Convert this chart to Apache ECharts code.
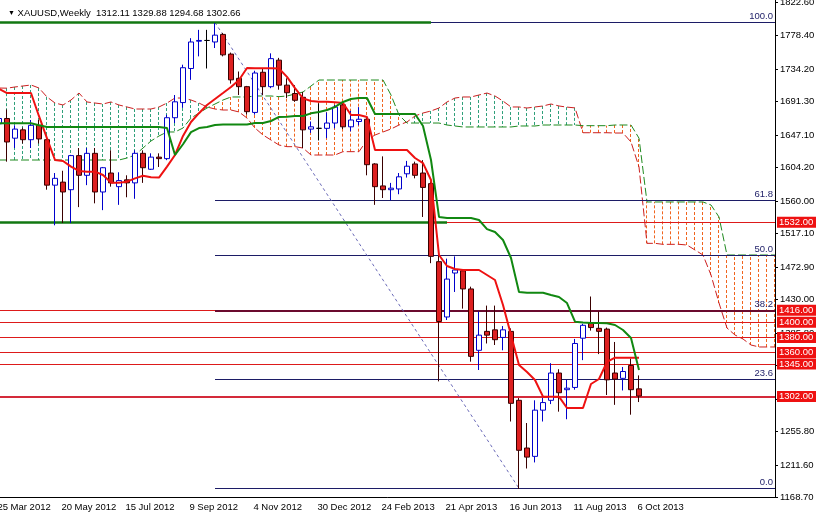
<!DOCTYPE html>
<html><head><meta charset="utf-8">
<script src="https://cdn.jsdelivr.net/npm/echarts@6/dist/echarts.min.js"></script>
<style>html,body{margin:0;padding:0;background:#fff}#c{width:816px;height:516px}</style>
</head><body><div id="c"></div>
<script>
// ---------- data ----------
const titleText = 'XAUUSD,Weekly  1312.11 1329.88 1294.68 1302.66';
const yTickValues = [1822.6,1778.4,1734.2,1691.3,1647.1,1604.2,1560.0,1517.1,1472.9,1430.0,1385.8,1342.9,1298.7,1255.8,1211.6,1168.7];
const xTickLabels = ['25 Mar 2012','20 May 2012','15 Jul 2012','9 Sep 2012','4 Nov 2012','30 Dec 2012','24 Feb 2013','21 Apr 2013','16 Jun 2013','11 Aug 2013','6 Oct 2013'];
const xTickBars = [0,8,16,24,32,40,48,56,64,72,80];

const openP  = [1662,1669,1643,1654,1641,1660,1641,1581,1585,1575,1620,1594,1623,1572,1597,1579,1588,1584,1623,1602,1618,1616,1670,1690,1735,1771,1772,1770,1780,1754,1722,1711,1677,1730,1711,1746,1713,1702,1697,1655,1656,1656,1663,1687,1658,1665,1668,1609,1580,1575,1576,1596,1609,1597,1583,1480,1407,1465,1468,1444,1363,1388,1390,1380,1388,1297,1234,1223,1284,1297,1333,1311,1314,1379,1399,1392,1391,1333,1326,1343,1312.11];
const highP  = [1697,1681,1660,1657,1667,1667,1643,1597,1600,1621,1630,1630,1630,1605,1627,1598,1594,1627,1627,1623,1623,1674,1700,1740,1775,1786,1786,1795,1782,1756,1731,1712,1732,1735,1755,1749,1722,1713,1704,1665,1689,1677,1687,1690,1679,1684,1672,1610,1619,1584,1597,1613,1612,1614,1586,1495,1484,1487,1470,1447,1414,1422,1422,1395,1392,1300,1267,1297,1300,1346,1338,1324,1378,1398,1434,1414,1393,1374,1341,1352,1329.88];
const lowP   = [1643,1612,1630,1636,1630,1636,1575,1528,1531,1531,1552,1581,1557,1548,1579,1555,1565,1563,1584,1601,1605,1614,1663,1683,1720,1751,1735,1762,1751,1715,1700,1674,1674,1700,1709,1707,1696,1691,1630,1650,1640,1643,1656,1655,1652,1660,1594,1555,1564,1561,1569,1591,1590,1539,1478,1322,1403,1440,1418,1348,1337,1372,1370,1363,1269,1180,1207,1215,1269,1292,1282,1272,1311,1350,1389,1358,1304,1291,1310,1278,1294.68];
const closeP = [1669,1638,1655,1641,1660,1642,1581,1590,1572,1620,1594,1623,1572,1604,1584,1587,1584,1623,1604,1618,1616,1670,1691,1736,1770,1772,1772,1779,1753,1720,1711,1678,1729,1711,1748,1713,1703,1693,1654,1658,1656,1663,1684,1658,1667,1668,1608,1579,1575,1577,1592,1606,1594,1578,1487,1401,1457,1469,1444,1355,1383,1383,1377,1390,1293,1231,1222,1284,1294,1333,1307,1313,1372,1396,1393,1388,1324,1325,1335,1311,1302.66];

const tenkan = [1708,1702.6,1702.6,1702.6,1702.6,1672,1642.8,1614.2,1612.9,1605.4,1599.7,1598.8,1598.8,1594.4,1584.3,1584.3,1585.6,1590,1593.5,1591.3,1591,1605.4,1620.8,1645.9,1664.4,1676,1686.8,1694.7,1702.6,1710.6,1719.8,1735.6,1735.2,1735.2,1735.2,1735,1724,1709,1695.6,1692,1691,1691,1690.5,1689.4,1673.6,1673.6,1671,1627.4,1627.4,1627.4,1627.4,1627.4,1616.8,1610,1587.8,1488.8,1474.3,1470.3,1469,1469,1469,1462.4,1455.8,1422.8,1383.2,1343.6,1334.4,1323.8,1301.8,1301.8,1301.8,1286.8,1286.8,1286.8,1318.5,1325.1,1347.6,1353.2,1353.2,1353.2,1353.2];
const kijun = [1662.6,1662.6,1662.6,1662.6,1662.6,1660,1657.8,1657.8,1657.8,1657.8,1657.8,1657.8,1657.8,1657.8,1657.8,1657.8,1657.8,1657.8,1657.8,1657.8,1657.8,1656.4,1620.8,1635,1651,1656.4,1657.8,1660.4,1661,1661,1661,1661,1663,1663,1665.7,1671,1671.4,1672.3,1672.3,1675.8,1677.6,1680.2,1684.2,1690.8,1694.7,1696,1696,1674.9,1674.9,1674.9,1674.9,1674.9,1674.9,1659.1,1614.2,1539,1537.6,1537.6,1537.6,1537.6,1535,1523,1519.2,1508.6,1484.8,1440,1439,1439,1439,1436,1433.4,1425.4,1400.8,1399.7,1399,1399,1398.6,1396.4,1389.8,1379.2,1337];
const spanA = [1709.2,1709,1710.6,1711.9,1713.2,1709.2,1697.4,1689.4,1686.8,1693.4,1702.6,1690.8,1689.4,1688.1,1690.8,1686.8,1684.2,1681.5,1681.5,1681.5,1684.2,1689.4,1696,1696,1693.4,1689.4,1684.2,1681.5,1680.2,1680.2,1677.6,1669.6,1656.4,1647.2,1640.6,1634,1631.8,1631.8,1630,1620.8,1620.8,1620.8,1620.8,1625.2,1625.2,1625.2,1640.6,1647.2,1651.2,1655.1,1660.4,1664.4,1672.3,1676.2,1678.9,1682.8,1690.8,1696,1697.4,1697.4,1700,1702.6,1698.7,1692,1684.2,1684.2,1682.8,1684.2,1685.5,1688.1,1685.5,1684,1683,1650.2,1650.2,1650.2,1650.2,1649.8,1649.8,1638,1605,1504.2,1504.2,1502.9,1502.9,1502.9,1502,1495.4,1488.8,1462.4,1425.4,1392.4,1383.2,1377.9,1370,1367.4,1367.4,1367.4];
const spanB = [1614.2,1614.2,1614.2,1614.2,1614.2,1614.2,1614.2,1614.2,1614.2,1614.2,1614.2,1614.2,1614.2,1614.2,1614.2,1614.2,1616.8,1620.8,1630,1639.3,1645.9,1651.2,1651.2,1656.4,1669.6,1676.2,1682.8,1688.1,1693.4,1697.4,1697.4,1697.4,1698.7,1698.7,1698.7,1697.8,1698.7,1701.3,1703.9,1711.9,1719.8,1719.8,1719.8,1719.8,1719.8,1719.8,1719.8,1719.8,1719.8,1700,1673.6,1663,1663,1663,1663,1663,1660.4,1659.1,1657.8,1657.8,1657.8,1657.8,1657.8,1657.8,1657.8,1659.1,1659.1,1659.1,1660.4,1660.4,1660.4,1660.4,1660.4,1659.5,1659.5,1659.5,1659.5,1660.4,1660.4,1660.4,1643,1558.8,1558.8,1558.8,1558.8,1558.8,1558.8,1558.8,1558.8,1554.8,1539,1488.8,1488.8,1488.8,1488.8,1488.8,1488.8,1488.8];

const redLevels = [1532,1416,1400,1380,1360,1345,1302];
const fibLabels = ['100.0','61.8','50.0','38.2','23.6','0.0'];
const fibLevels = [1795.7,1560.8,1488.2,1415.6,1324.5,1180.7];
const fibStartBar = 27, fibLowBar = 65, lastBar = 97;
const greenLevels = [1795.7,1532];
const greenEndBars = [54,56];

// ---------- chart ----------
const FONT = "'Liberation Sans', Arial, sans-serif";
const BULL_HATCH = '#2fa07a', BEAR_HATCH = '#f0641e';
const chart = echarts.init(document.getElementById('c'), null, {renderer:'canvas'});
const candleData = openP.map((o,i)=>[i,o,closeP[i],lowP[i],highP[i]]);
const idx = arr => arr.map((v,i)=>[i,v]);
const bullCloud = spanA.map((a,i)=>a>=spanB[i]?[i,a,spanB[i]]:[i,null,null]);
const bearCloud = spanA.map((a,i)=>a<spanB[i]?[i,a,spanB[i]]:[i,null,null]);
const LABEL_SHIFT = 0.2;

function hatchLine(data, color){
  return {type:'custom',z:1,data:data,encode:{x:0,y:[1,2]},silent:true,
    renderItem:(params,api)=>{
      const a=api.value(1),b=api.value(2);
      if (a==null || b==null || isNaN(a) || isNaN(b)) return null;
      const i=api.value(0);
      const p1=api.coord([i,a]),p2=api.coord([i,b]);
      const x=Math.round(p1[0])-0.5;
      return {type:'line',shape:{x1:x,y1:p1[1],x2:x,y2:p2[1]},
        style:{stroke:color,lineWidth:1,lineDash:[3,2],fill:null}};
    }};
}

const option = {
  animation:false,
  backgroundColor:'#fff',
  title:{text:'{t|▼} '+titleText,left:3,top:3,
    textStyle:{fontSize:9.5,fontWeight:'normal',color:'#000',fontFamily:FONT,
      rich:{t:{fontSize:7,color:'#000'}}}},
  grid:{left:-4,right:41,top:0,bottom:18.5,containLabel:false,outerBoundsMode:'none'},
  xAxis:{type:'value',min:-0.375,max:lastBar,
    axisLine:{show:true,onZero:false,lineStyle:{color:'#000',width:1}},
    axisTick:{show:false},
    splitLine:{show:false},
    axisLabel:{customValues:xTickBars.map(b=>b-LABEL_SHIFT),align:'left',margin:5,fontSize:9.5,color:'#000',fontFamily:FONT,
      hideOverlap:false,
      formatter:v=>xTickLabels[xTickBars.indexOf(Math.round(v))]||''}},
  yAxis:{type:'value',position:'right',min:1168.7,max:1825.4,
    axisLine:{show:true,onZero:false,lineStyle:{color:'#000',width:1}},
    axisTick:{show:true,customValues:yTickValues,length:3,lineStyle:{color:'#000'}},
    splitLine:{show:false},
    axisLabel:{customValues:yTickValues,margin:5,fontSize:9.5,color:'#000',fontFamily:FONT,
      hideOverlap:false,
      formatter:v=>v.toFixed(2)}},
  series:[
    hatchLine(bullCloud, BULL_HATCH),
    hatchLine(bearCloud, BEAR_HATCH),
    {type:'line',z:2,data:idx(spanA),symbol:'none',silent:true,
      lineStyle:{color:'#cc2020',width:1,type:[8,3]}},
    {type:'line',z:2,data:idx(spanB),symbol:'none',silent:true,
      lineStyle:{color:'#1f8a1f',width:1,type:[8,3]}},
    {type:'line',z:3,data:[],silent:true,
      markLine:{silent:true,symbol:['none','none'],animation:false,
        lineStyle:{color:'#dd1a1a',width:1,type:'solid'},
        label:{position:'end',distance:2,color:'#fff',backgroundColor:'#ee1111',
          padding:[1,3,0,2],fontSize:9.5,fontFamily:FONT},
        data:redLevels.map(v=>({yAxis:v,label:{formatter:v.toFixed(2)},
          lineStyle:v===1302?{width:2,color:'#d42a3a'}:{}}))}},
    {type:'line',z:3,data:[],silent:true,
      markLine:{silent:true,symbol:['none','none'],animation:false,
        lineStyle:{color:'#1c1c66',width:1,type:'solid'},
        label:{position:'insideEndTop',distance:[2,1],color:'#1c1c66',fontSize:9.5,fontFamily:FONT},
        data:fibLevels.map((v,k)=>[
          {coord:[fibStartBar,v],label:{formatter:fibLabels[k]},
            lineStyle:k===3?{color:'#6a0a2e',width:2}:{}},
          {coord:[lastBar,v]}]).concat([
          [{coord:[fibStartBar,fibLevels[0]],lineStyle:{color:'#6a6ab8',width:1,type:[3,3]},label:{show:false}},
           {coord:[fibLowBar,fibLevels[5]]}]
        ])}},
    {type:'line',z:4,data:[],silent:true,
      markLine:{silent:true,symbol:['none','none'],animation:false,
        lineStyle:{color:'#117711',width:2.5,type:'solid'},label:{show:false},
        data:greenLevels.map((v,k)=>[{coord:[-0.375,v]},{coord:[greenEndBars[k],v]}])}},
    {type:'candlestick',z:5,data:candleData,encode:{x:0,y:[1,2,3,4]},barWidth:5,silent:true,
      itemStyle:{color:'#ffffff',color0:'#dd2020',borderColor:'#0000cc',borderColor0:'#3a0000',
        borderColorDoji:'#000',borderWidth:1}},
    {type:'line',z:6,data:idx(tenkan),symbol:'none',silent:true,
      lineStyle:{color:'#ee1111',width:2}},
    {type:'line',z:6,data:idx(kijun),symbol:'none',silent:true,
      lineStyle:{color:'#118811',width:2}}
  ]
};
chart.setOption(option);
</script></body></html>
